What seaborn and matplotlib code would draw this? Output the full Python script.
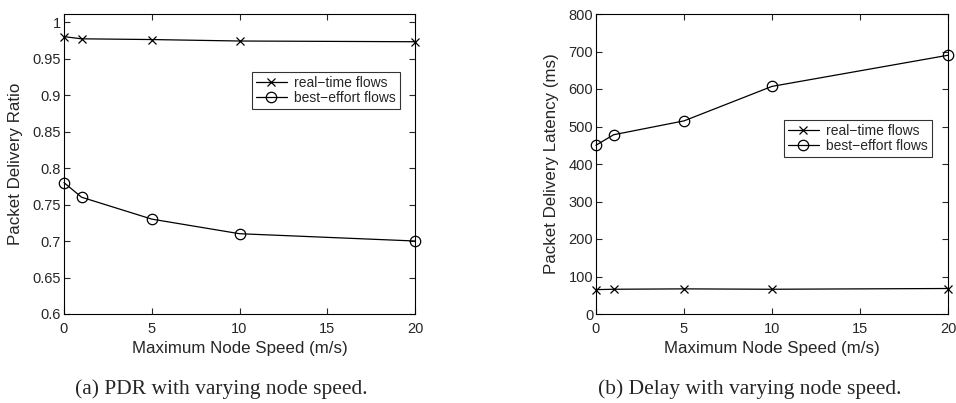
import numpy as np
import matplotlib

matplotlib.use("Agg")
import matplotlib.pyplot as plt
import seaborn as sns

speeds = [0, 1, 5, 10, 20]
pdr_realtime = [0.980, 0.977, 0.976, 0.974, 0.973]
pdr_besteffort = [0.780, 0.760, 0.730, 0.710, 0.700]
lat_realtime = [65, 66, 67, 66, 68]
lat_besteffort = [450, 478, 515, 607, 690]

series_names = ["real\u2212time flows", "best\u2212effort flows"]
series_markers = ["x", "o"]

sns.set_theme(style="white")
plt.rcParams["font.family"] = ["Liberation Sans", "DejaVu Sans"]
plt.rcParams["xtick.direction"] = "in"
plt.rcParams["ytick.direction"] = "in"

fig = plt.figure(figsize=(9.56, 4.03), dpi=100)
ax1 = fig.add_axes([64 / 956, 1 - 314 / 403, 351 / 956, 300 / 403])
ax2 = fig.add_axes([596 / 956, 1 - 314 / 403, 352 / 956, 300 / 403])

panels = [
    (ax1, [pdr_realtime, pdr_besteffort], (0.6, 1.011),
     np.arange(0.6, 1.001, 0.05), "Packet Delivery Ratio",
     (252, 72)),
    (ax2, [lat_realtime, lat_besteffort], (0, 800),
     np.arange(0, 801, 100), "Packet Delivery Latency (ms)",
     (784, 120)),
]

for ax, series, ylim, yticks, ylabel, leg in panels:
    for vals, name, mk in zip(series, series_names, series_markers):
        sns.lineplot(x=speeds, y=vals, ax=ax, color="black", linewidth=0.9,
                     marker=mk, markersize=7.5 if mk == "o" else 5.5,
                     markerfacecolor="none", markeredgecolor="black",
                     markeredgewidth=0.9, label=name, clip_on=False)
    ax.set_xlim(0, 20)
    ax.set_ylim(*ylim)
    ax.set_xticks([0, 5, 10, 15, 20])
    ax.set_yticks(yticks)
    if ylim[0] == 0.6:
        ax.set_yticklabels(["0.6", "0.65", "0.7", "0.75", "0.8", "0.85", "0.9", "0.95", "1"])
    ax.set_xlabel("Maximum Node Speed (m/s)", fontsize=12.2, labelpad=3)
    ax.set_ylabel(ylabel, fontsize=12.2, labelpad=7)
    ax.tick_params(labelsize=10.5, length=4, width=0.8, top=True, right=True,
                   bottom=True, left=True)
    ax.tick_params(axis="x", pad=6)
    ax.tick_params(axis="y", pad=2)
    for s in ax.spines.values():
        s.set_color("black")
        s.set_linewidth(0.8)
    x0, y0 = leg
    lg = ax.legend(title=None, fontsize=10, frameon=True, fancybox=False,
                   edgecolor="black", loc="upper left", borderpad=0.3,
                   borderaxespad=0, labelspacing=0.05, handlelength=2.2,
                   handletextpad=0.5,
                   bbox_to_anchor=(x0 / 956, 1 - y0 / 403),
                   bbox_transform=fig.transFigure)
    lg.get_frame().set_linewidth(0.8)

fig.text(221 / 956, 1 - 389 / 403, "(a) PDR with varying node speed.",
         ha="center", va="center", fontsize=15.5, family=["Liberation Serif", "DejaVu Serif"])
fig.text(750 / 956, 1 - 389 / 403, "(b) Delay with varying node speed.",
         ha="center", va="center", fontsize=15.5, family=["Liberation Serif", "DejaVu Serif"])

fig.savefig("out.png", dpi=100)
